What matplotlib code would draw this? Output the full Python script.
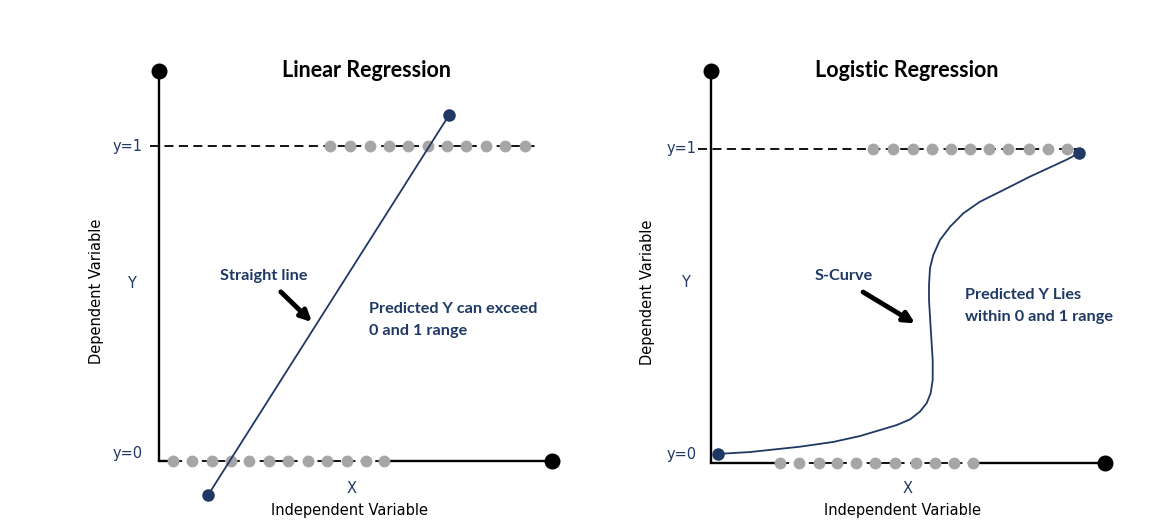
import matplotlib.pyplot as plt

# --- data (x in arbitrary units 0..10, y in probability units) ---
# linear regression panel
lin_zero_dots_x = [0.36, 0.84, 1.35, 1.83, 2.29, 2.80, 3.28, 3.79, 4.27, 4.78, 5.27, 5.73]
lin_one_dots_x = [4.35, 4.86, 5.37, 5.85, 6.34, 6.84, 7.33, 7.81, 8.32, 8.80, 9.31]
lin_line_x = [1.25, 7.38]
lin_line_y = [-0.108, 1.098]

# logistic regression panel
log_zero_dots_x = [1.75, 2.23, 2.74, 3.19, 3.68, 4.17, 4.68, 5.20, 5.68, 6.16, 6.65]
log_one_dots_x = [4.11, 4.62, 5.12, 5.61, 6.09, 6.58, 7.06, 7.55, 8.06, 8.55, 9.04]
s_curve_x = [0.178, 0.990, 2.259, 3.096, 3.782, 4.289, 4.713, 5.051, 5.305, 5.475,
             5.576, 5.627, 5.627, 5.584, 5.533, 5.533, 5.558, 5.642, 5.812, 6.066,
             6.404, 6.827, 7.419, 8.096, 9.028, 9.340]
s_curve_y = [0.028, 0.034, 0.051, 0.066, 0.085, 0.104, 0.120, 0.138, 0.163, 0.190,
             0.222, 0.264, 0.327, 0.413, 0.519, 0.566, 0.620, 0.662, 0.710, 0.752,
             0.795, 0.832, 0.869, 0.912, 0.966, 0.987]

NAVY = '#1F3864'
GRAY = '#A6A6A6'
BOLD_FONT = ['Lato', 'DejaVu Sans']

W, H = 1165, 529
fig = plt.figure(figsize=(W / 100, H / 100), dpi=100)


def make_axes(left_px, right_px, x0_px, y0_px, sx, sy):
    # axes covering a horizontal slice of the figure, mapped so that
    # data (0,0) sits at pixel (x0_px, y0_px)
    ax = fig.add_axes([left_px / W, 0, (right_px - left_px) / W, 1])
    ax.set_xlim((left_px - x0_px) / sx, (right_px - x0_px) / sx)
    ax.set_ylim((y0_px - H) / sy, y0_px / sy)
    ax.axis('off')
    return ax


def draw_frame(ax, top_y, zero_dots, one_dots, one_line_x, title, title_x, title_y):
    # vertical axis with dot on top
    ax.plot([0, 0], [0, top_y], color='black', lw=1.7, solid_capstyle='butt', zorder=2)
    ax.plot([0], [top_y], 'o', color='black', ms=10.5, zorder=3)
    # horizontal axis: solid, dashed under the dots, solid, dot at the end
    ax.plot([0, zero_dots[0]], [0, 0], color='black', lw=1.7, zorder=2)
    ax.plot([zero_dots[0], zero_dots[-1]], [0, 0], color='black', lw=1.3,
            ls=(0, (5, 3)), zorder=2)
    ax.plot([zero_dots[-1], 10], [0, 0], color='black', lw=1.7, zorder=2)
    ax.plot([10], [0], 'o', color='black', ms=10.5, zorder=3)
    ax.plot(zero_dots, [0] * len(zero_dots), 'o', color=GRAY, ms=7.5, zorder=3)
    # y = 1 reference line
    ax.plot(one_line_x, [1, 1], color='black', lw=1.3, ls=(0, (5, 3)), zorder=2)
    ax.plot(one_dots, [1] * len(one_dots), 'o', color=GRAY, ms=7.5, zorder=3)
    ax.text(title_x, title_y, title, ha='center', va='center', fontsize=15.5,
            fontweight='bold', family=BOLD_FONT)


# ---------------- Linear Regression ----------------
ax1 = make_axes(0, 582.5, 159, 461, 39.3, 315)
draw_frame(ax1, 1.238, lin_zero_dots_x, lin_one_dots_x, [-0.23, 9.62],
           'Linear Regression', 5.29, 1.241)
ax1.plot(lin_line_x, lin_line_y, '-', color=NAVY, lw=1.3, zorder=4)
ax1.plot(lin_line_x, lin_line_y, 'o', color=NAVY, ms=8, zorder=5)

ax1.text(-0.41, 1.0, 'y=1', ha='right', va='center', color=NAVY, fontsize=10.5)
ax1.text(-0.41, 0.025, 'y=0', ha='right', va='center', color=NAVY, fontsize=10.5)
ax1.text(-0.69, 0.565, 'Y', ha='center', va='center', color=NAVY, fontsize=10.5)
ax1.text(-1.58, 0.54, 'Dependent Variable', ha='center', va='center',
         rotation=90, fontsize=10.5)
ax1.text(4.91, -0.086, 'X', ha='center', va='center', color=NAVY, fontsize=10.5)
ax1.text(4.86, -0.156, 'Independent Variable', ha='center', va='center', fontsize=10.5)

ax1.text(2.67, 0.587, 'Straight line', ha='center', va='center', color=NAVY,
         fontsize=11.7, fontweight='bold', family=BOLD_FONT)
ax1.annotate('', xy=(3.89, 0.441), xytext=(3.10, 0.537),
             arrowprops=dict(arrowstyle='-|>', color='black', lw=3.5,
                             mutation_scale=16, shrinkA=0, shrinkB=0))
ax1.text(5.34, 0.483, 'Predicted Y can exceed', ha='left', va='center', color=NAVY,
         fontsize=11.7, fontweight='bold', family=BOLD_FONT)
ax1.text(5.34, 0.413, '0 and 1 range', ha='left', va='center', color=NAVY,
         fontsize=11.7, fontweight='bold', family=BOLD_FONT)

# ---------------- Logistic Regression ----------------
ax2 = make_axes(582.5, W, 711, 462.7, 39.4, 313.7)
draw_frame(ax2, 1.249, log_zero_dots_x, log_one_dots_x, [-0.33, 9.3],
           'Logistic Regression', 4.97, 1.251)
ax2.plot(s_curve_x, s_curve_y, '-', color=NAVY, lw=1.3, zorder=4,
         solid_joinstyle='round')
ax2.plot([s_curve_x[0], s_curve_x[-1]], [s_curve_y[0], s_curve_y[-1]], 'o',
         color=NAVY, ms=8, zorder=5)

ax2.text(-0.36, 1.0, 'y=1', ha='right', va='center', color=NAVY, fontsize=10.5)
ax2.text(-0.36, 0.025, 'y=0', ha='right', va='center', color=NAVY, fontsize=10.5)
ax2.text(-0.66, 0.573, 'Y', ha='center', va='center', color=NAVY, fontsize=10.5)
ax2.text(-1.60, 0.543, 'Dependent Variable', ha='center', va='center',
         rotation=90, fontsize=10.5)
ax2.text(5.0, -0.083, 'X', ha='center', va='center', color=NAVY, fontsize=10.5)
ax2.text(4.87, -0.151, 'Independent Variable', ha='center', va='center', fontsize=10.5)

ax2.text(3.38, 0.595, 'S-Curve', ha='center', va='center', color=NAVY,
         fontsize=11.7, fontweight='bold', family=BOLD_FONT)
ax2.annotate('', xy=(5.18, 0.444), xytext=(3.86, 0.544),
             arrowprops=dict(arrowstyle='-|>', color='black', lw=3.5,
                             mutation_scale=16, shrinkA=0, shrinkB=0))
ax2.text(6.45, 0.534, 'Predicted Y Lies', ha='left', va='center', color=NAVY,
         fontsize=11.7, fontweight='bold', family=BOLD_FONT)
ax2.text(6.45, 0.464, 'within 0 and 1 range', ha='left', va='center', color=NAVY,
         fontsize=11.7, fontweight='bold', family=BOLD_FONT)

fig.savefig('out.png', dpi=100)
